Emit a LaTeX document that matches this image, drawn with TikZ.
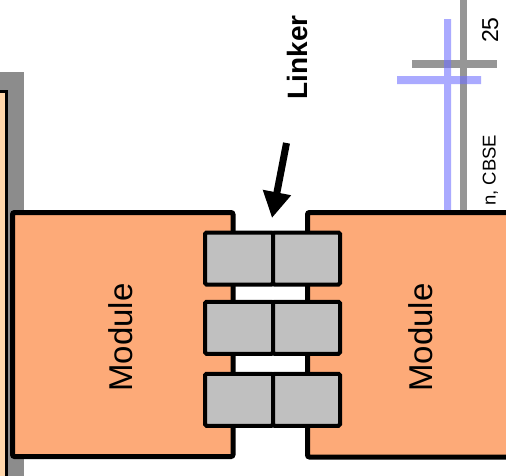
\documentclass[tikz,border=0pt]{standalone}
\usepackage{fontspec}
\setmainfont{Liberation Sans}
\usetikzlibrary{arrows.meta}
\definecolor{modfill}{RGB}{253,170,120}
\definecolor{palefill}{RGB}{255,214,170}
\definecolor{bandgray}{RGB}{140,140,140}
\definecolor{linegray}{RGB}{150,150,150}
\definecolor{lineblue}{RGB}{113,113,255}
\definecolor{boxgray}{RGB}{192,192,192}
\tikzset{
  modbox/.style={draw=black, fill=modfill, line width=5pt, rounded corners=2pt, inner sep=0pt},
  linkbox/.style={draw=black, fill=boxgray, line width=4pt, rounded corners=1.5pt, inner sep=0pt, minimum height=52pt},
  modlabel/.style={font=\fontsize{33}{36}\selectfont, rotate=90, anchor=base, inner sep=0pt},
  smalllabel/.style={rotate=90, inner sep=0pt},
  pointer/.style={line width=7pt, -{Triangle[length=26pt,width=27pt]}}
}
\begin{document}
\begin{tikzpicture}[x=1pt,y=-1pt]
\useasboundingbox (0,0) rectangle (506,475);
% left background shapes
\fill[bandgray] (0,72) rectangle (24,480);
\draw[line width=3pt, fill=palefill] (-20,91) rectangle (6,520);
% cross lines top right
\fill[linegray] (460,-5) rectangle (467,214);
\fill[linegray] (412,60) rectangle (497,68);
\begin{scope}[transparency group, opacity=0.6]
\fill[lineblue] (444,19) rectangle (451,214);
\fill[lineblue] (397,76) rectangle (481,84);
\end{scope}
\node[smalllabel, anchor=base, font=\fontsize{23}{26}\selectfont] (n25) at (498,30) {25};
\node[smalllabel, anchor=base west, font=\fontsize{18.5}{21}\selectfont] (cbse) at (495.5,206) {n, CBSE};
% modules
\node[modbox, minimum width=220.5pt, minimum height=244pt] (m1) at (122.75,334.5) {};
\node[modbox, minimum width=312.5pt, minimum height=244.5pt] (m2) at (463.75,334.75) {};
% linker boxes
\node[linkbox, minimum width=68pt] (a1) at (239,258.5) {};
\node[linkbox, minimum width=67pt] (b1) at (306.5,258.5) {};
\node[linkbox, minimum width=68pt] (a2) at (239,327.75) {};
\node[linkbox, minimum width=67pt] (b2) at (306.5,327.75) {};
\node[linkbox, minimum width=68pt] (a3) at (239,399.75) {};
\node[linkbox, minimum width=67pt] (b3) at (306.5,399.75) {};
% labels
\node[modlabel] (t1) at (132,337.5) {Module};
\node[modlabel] (t2) at (432,337.5) {Module};
\node[smalllabel, anchor=base, font=\bfseries\fontsize{28}{30}\selectfont] (lk) at (307.5,57.5) {Linker};
% arrow
\coordinate (ps) at (286.5,143);
\coordinate (pt) at (272,218);
\draw[pointer] (ps) -- (pt);
\end{tikzpicture}
\end{document}
